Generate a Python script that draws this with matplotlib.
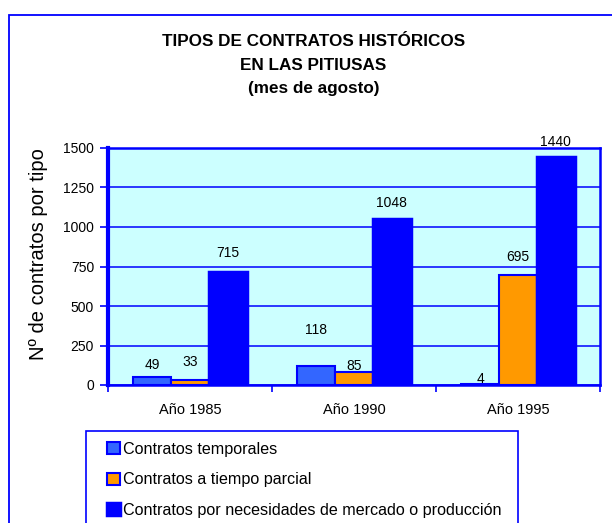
import matplotlib.pyplot as plt
from matplotlib.patches import Rectangle
import numpy as np

plt.rcParams['font.family'] = ['Liberation Sans', 'DejaVu Sans']

years = ['Año 1985', 'Año 1990', 'Año 1995']
temporales = [49, 118, 4]
parcial = [33, 85, 695]
mercado = [715, 1048, 1440]
series_names = ['Contratos temporales',
                'Contratos a tiempo parcial',
                'Contratos por necesidades de mercado o producción']
yticks = [0, 250, 500, 750, 1000, 1250, 1500]

W, H = 612, 523
fig = plt.figure(figsize=(W / 100, H / 100), dpi=100)

def fx(px):
    return px / W

def fy(py):
    return 1 - py / H

# outer chart frame (cut off at right and bottom)
fig.patches.append(Rectangle((fx(9), fy(600)), 1.2, fy(15) - fy(600),
                             transform=fig.transFigure, fill=False,
                             edgecolor='#0000FF', lw=1.3))

ax = fig.add_axes([fx(108), fy(385), fx(600) - fx(108), fy(148) - fy(385)])
ax.set_facecolor('#CCFFFF')

x = np.arange(len(years))
w = 0.23
b1 = ax.bar(x - w, temporales, w, color='#3366FF', edgecolor='#0000FF', lw=1.5, zorder=3)
b2 = ax.bar(x, parcial, w, color='#FF9900', edgecolor='#0000FF', lw=1.5, zorder=3)
b3 = ax.bar(x + w, mercado, w, color='#0000FF', edgecolor='#0000FF', lw=2.5, zorder=3)

# label offsets in points (as placed in the original)
offs = [[9, 26, 4], [13, 4, 13], [14, 12, 11]]
for bars, vals, off in zip([b1, b2, b3], [temporales, parcial, mercado], offs):
    for r, v, o in zip(bars, vals, off):
        ax.annotate(str(v), (r.get_x() + r.get_width() / 2, v),
                    xytext=(0, o), textcoords='offset points',
                    ha='center', va='center', fontsize=10, color='#000000')

ax.set_xlim(-0.5, 2.5)
ax.set_ylim(0, 1500)
ax.set_yticks(yticks)
ax.set_yticklabels([str(t) for t in yticks], fontsize=10)
ax.set_xticks(x)
ax.set_xticklabels(years, fontsize=10.5)
ax.set_xticks([-0.5, 0.5, 1.5, 2.5], minor=True)
ax.tick_params(axis='x', which='major', length=0, pad=13)
ax.tick_params(axis='x', which='minor', length=5, color='#0000FF', width=1.2, direction='out')
ax.tick_params(axis='y', length=6, color='#0000FF', width=1.2, pad=4)
ax.grid(axis='y', color='#0000FF', lw=1.1, zorder=1)
ax.set_axisbelow(True)
for s in ['top', 'right', 'bottom']:
    ax.spines[s].set_color('#0000FF')
    ax.spines[s].set_linewidth(1.8)
ax.spines['left'].set_color('#0000FF')
ax.spines['left'].set_linewidth(3)

ax.set_ylabel('Nº de contratos por tipo', fontsize=14.5)
ax.yaxis.set_label_coords(-0.121, 0.553)

fig.text(fx(313.5), fy(41.5), 'TIPOS DE CONTRATOS HISTÓRICOS', ha='center', va='center',
         fontsize=12.3, fontweight='bold')
fig.text(fx(313.5), fy(65), 'EN LAS PITIUSAS', ha='center', va='center',
         fontsize=12.3, fontweight='bold')
fig.text(fx(313.5), fy(88), '(mes de agosto)', ha='center', va='center',
         fontsize=12.3, fontweight='bold')

# legend frame extends past the bottom edge
fig.patches.append(Rectangle((fx(86), fy(600)), fx(518) - fx(86), fy(431) - fy(600),
                             transform=fig.transFigure, fill=False,
                             edgecolor='#0000FF', lw=1.2))
leg = fig.legend([b1, b2, b3], series_names, loc='upper left',
                 bbox_to_anchor=(fx(101), fy(435.5)), frameon=False,
                 fontsize=11.6, handlelength=0.75, handleheight=0.75,
                 handletextpad=0.2, labelspacing=0.96, borderaxespad=0)

fig.savefig('out.png', dpi=100)
